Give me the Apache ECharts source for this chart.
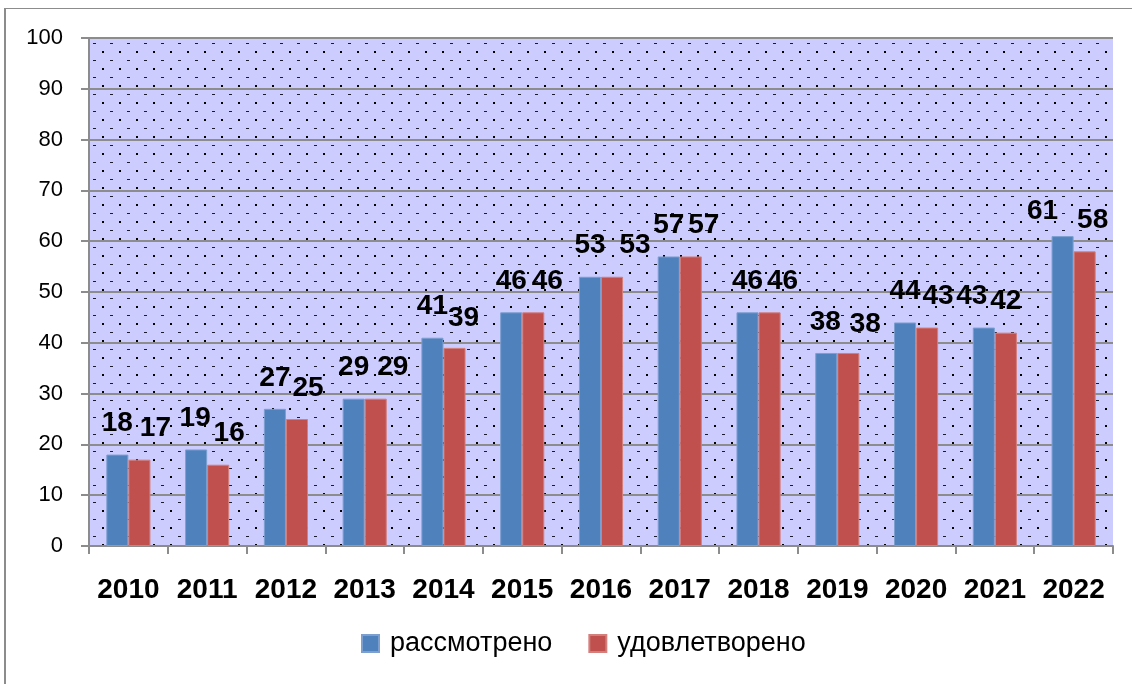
<!DOCTYPE html>
<html>
<head>
<meta charset="utf-8">
<script src="https://cdn.jsdelivr.net/npm/echarts@6/dist/echarts.min.js"></script>
<style>
  html, body { margin: 0; padding: 0; background: #ffffff; }
  #chart { width: 1132px; height: 684px; }
</style>
</head>
<body>
<div id="chart"></div>
<script>
// Years on the category axis
const years = ['2010', '2011', '2012', '2013', '2014', '2015', '2016', '2017', '2018', '2019', '2020', '2021', '2022'];
// Applications considered / satisfied per year
const considered = [18, 19, 27, 29, 41, 46, 53, 57, 46, 38, 44, 43, 61];
const satisfied  = [17, 16, 25, 29, 39, 46, 53, 57, 46, 38, 43, 42, 58];
const seriesNames = ['рассмотрено', 'удовлетворено'];
const yTicks = { min: 0, max: 100, step: 10 };

// Small horizontal / vertical nudges of the value labels so they do not collide
const nudgeConsidered = [[0,0],[-1,0],[0,0],[0,0],[0,0],[0,0],[0,0],[0,0],[0,0],[-1,0],[0,0],[-12,0],[-20,6]];
const nudgeSatisfied  = [[16,0],[11,0],[11,0],[17,0],[9,1],[14,0],[23,0],[13,0],[13,0],[17,2],[11,0],[0,0],[8,0]];

// Dotted lavender fill for the plot area
function dotPattern() {
  const c = document.createElement('canvas');
  c.width = 17; c.height = 17;
  const g = c.getContext('2d');
  g.fillStyle = '#ccccff';
  g.fillRect(0, 0, 17, 17);
  g.fillStyle = '#000000';
  g.fillRect(0, 0, 2, 2);
  g.fillStyle = '#1a1a2e';
  g.fillRect(8, 9, 3, 1);
  return c;
}

const labelFont = { fontFamily: '"Liberation Sans", Arial, sans-serif', fontWeight: 'bold', fontSize: 28, color: '#000000' };

function buildData(values, nudges) {
  return values.map((v, i) => ({
    value: v,
    label: { offset: nudges[i] }
  }));
}

const chart = echarts.init(document.getElementById('chart'), null, { renderer: 'canvas' });

chart.setOption({
  animation: false,
  backgroundColor: '#ffffff',
  graphic: [{
    type: 'rect',
    z: -10,
    shape: { x: 5, y: 8.5, width: 1200, height: 800 },
    style: { fill: 'none', stroke: '#8c8c8c', lineWidth: 1 }
  }, {
    type: 'rect',
    z: -10,
    shape: { x: 4, y: 8, width: 2, height: 700 },
    style: { fill: '#8c8c8c' }
  }],
  grid: {
    left: 89, right: 19, top: 38, bottom: 138,
    show: true,
    borderWidth: 0,
    backgroundColor: { image: dotPattern(), repeat: 'repeat' },
    containLabel: false
  },
  legend: {
    bottom: 22,
    left: 356,
    itemWidth: 17,
    itemHeight: 17,
    itemGap: 36,
    icon: 'rect',
    textStyle: { fontFamily: '"Liberation Sans", Arial, sans-serif', fontSize: 27, color: '#000000', padding: [0, 0, 0, 6] },
    data: seriesNames
  },
  xAxis: {
    type: 'category',
    data: years,
    boundaryGap: true,
    axisLine: { show: true, lineStyle: { color: '#8c8c8c', width: 2 } },
    axisTick: { show: true, alignWithLabel: false, interval: 0, length: 8, lineStyle: { color: '#8c8c8c', width: 2 } },
    axisLabel: {
      interval: 0,
      margin: 30,
      fontFamily: '"Liberation Sans", Arial, sans-serif',
      fontWeight: 'bold',
      fontSize: 28,
      color: '#000000'
    },
    splitLine: { show: false }
  },
  yAxis: {
    type: 'value',
    min: yTicks.min,
    max: yTicks.max,
    interval: yTicks.step,
    axisLine: { show: true, lineStyle: { color: '#8c8c8c', width: 2 } },
    axisTick: { show: true, length: 8, lineStyle: { color: '#8c8c8c', width: 2 } },
    axisLabel: {
      margin: 26,
      fontFamily: '"Liberation Sans", Arial, sans-serif',
      fontSize: 22,
      color: '#000000'
    },
    splitLine: { show: true, lineStyle: { color: '#8c8c8c', width: 2 } }
  },
  series: [{
    name: seriesNames[0],
    type: 'bar',
    barGap: '0%',
    barCategoryGap: '44%',
    itemStyle: { color: '#4f81bd', borderColor: '#7c9fd0', borderWidth: 1 },
    label: Object.assign({ show: true, position: 'top', distance: 17 }, labelFont),
    data: buildData(considered, nudgeConsidered)
  }, {
    name: seriesNames[1],
    type: 'bar',
    barGap: '0%',
    barCategoryGap: '44%',
    itemStyle: { color: '#c0504d', borderColor: '#d37f7c', borderWidth: 1 },
    label: Object.assign({ show: true, position: 'top', distance: 17 }, labelFont),
    data: buildData(satisfied, nudgeSatisfied)
  }]
});
</script>
</body>
</html>
